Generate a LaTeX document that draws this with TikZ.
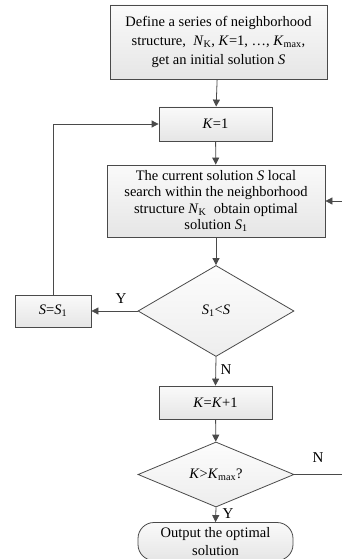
\documentclass[tikz,border=0pt]{standalone}
\usepackage{fontspec}
\setmainfont{Liberation Serif}
\usetikzlibrary{shapes.geometric,arrows.meta}
\definecolor{ln}{HTML}{4A4A4A}
\tikzset{
  boxst/.style={draw=ln, line width=0.8pt, top color=gray!4, bottom color=gray!20, align=center, inner sep=0pt, font=\fontsize{14.5}{19}\selectfont},
  decst/.style={draw=ln, line width=0.8pt, diamond, top color=gray!2, bottom color=gray!14, inner sep=0pt, font=\fontsize{14.5}{19}\selectfont},
  arr/.style={draw=ln, line width=0.8pt, -{Triangle[length=7pt,width=7pt]}},
  lnk/.style={draw=ln, line width=0.8pt},
  lbl/.style={font=\fontsize{15}{18}\selectfont, inner sep=0pt}
}
\newcommand{\sub}[1]{\textsubscript{#1}}
\begin{document}
\begin{tikzpicture}[x=1pt,y=-1pt]
\useasboundingbox (0,0) rectangle (342,559);
\clip (0,0) rectangle (342,559);
\node[boxst, minimum width=217, minimum height=74] (top) at (218.5,42)
  {Define a series of neighborhood\\structure,\ \ \textit{N}\sub{K}, \textit{K}=1, \ldots, \textit{K}\sub{max},\\get an initial solution \textit{S}};
\node[boxst, minimum width=113, minimum height=34] (k1) at (215.5,124) {\textit{K}=1};
\node[boxst, minimum width=218, minimum height=72, font=\fontsize{14.5}{16.5}\selectfont] (search) at (216,201)
  {The current solution \textit{S} local\\search within the neighborhood\\structure \textit{N}\sub{K}\ \ obtain optimal\\solution \textit{S}\sub{1}};
\node[decst, minimum width=156, minimum height=91] (d1) at (216,311) {\textit{S}\sub{1}<\textit{S}};
\node[boxst, minimum width=76, minimum height=32] (s) at (53,311) {\textit{S}=\textit{S}\sub{1}};
\node[boxst, minimum width=113, minimum height=33] (kk) at (215.5,402.5) {\textit{K}=\textit{K}+1};
\node[decst, minimum width=156, minimum height=55] (d2) at (216,474.5) {\textit{K}>\textit{K}\sub{max}?};
\node[boxst, rounded corners=16pt, minimum width=155, minimum height=38, font=\fontsize{14.5}{17.5}\selectfont] (out) at (215.5,541.5)
  {Output the optimal\\solution};
\coordinate (re) at (342,474.5);
\coordinate (ri) at (342,201);
\draw[arr] (top) -- (k1);
\draw[arr] (k1) -- (search);
\draw[arr] (search) -- (d1);
\draw[arr] (d1.west) -- (s.east);
\draw[arr] (s.north) |- (k1.west);
\draw[arr] (d1.south) -- (kk.north);
\draw[arr] (kk) -- (d2);
\draw[lnk] (d2.east) -- (re);
\draw[arr] (ri) -- (search.east);
\draw[arr] (d2.south) -- (out.north);
\node[lbl] (ly1) at (121,299) {Y};
\node[lbl] (ln1) at (226,370) {N};
\node[lbl] (ln2) at (318,458) {N};
\node[lbl] (ly2) at (228,514) {Y};
\end{tikzpicture}
\end{document}
